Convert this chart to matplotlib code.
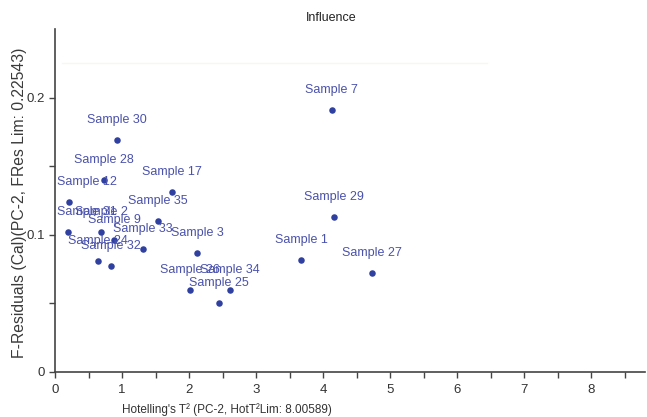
import matplotlib
matplotlib.use("Agg")
import matplotlib.pyplot as plt
import matplotlib.transforms as mtransforms

plt.rcParams['font.family'] = ['Liberation Sans', 'DejaVu Sans']

# samples: Hotelling's T2 vs F-residuals
names = ['Sample 7', 'Sample 30', 'Sample 28', 'Sample 12', 'Sample 17', 'Sample 35',
         'Sample 33', 'Sample 31', 'Sample 2', 'Sample 9', 'Sample 24', 'Sample 32',
         'Sample 3', 'Sample 26', 'Sample 34', 'Sample 25', 'Sample 1', 'Sample 29',
         'Sample 27']
hot_t2 = [4.13, 0.93, 0.73, 0.21, 1.75, 1.54,
          1.31, 0.19, 0.69, 0.88, 0.64, 0.84,
          2.12, 2.01, 2.61, 2.45, 3.67, 4.16,
          4.73]
f_res = [0.191, 0.169, 0.140, 0.124, 0.131, 0.110,
         0.090, 0.102, 0.102, 0.096, 0.081, 0.077,
         0.087, 0.060, 0.060, 0.050, 0.082, 0.113,
         0.072]
# labels pushed against the left axis
left_clamped = ['Sample 12', 'Sample 31']

fres_lim = 0.22543

fig = plt.figure(figsize=(6.47, 4.17), dpi=100)
ax = fig.add_axes([0.085, 0.108, 0.912, 0.822])

dot_col = '#3040a0'
txt_col = '#4a52ac'

ax.plot([0.1, 6.45], [fres_lim, fres_lim], color='#f7f6f2', lw=1.0, zorder=1)
ax.scatter(hot_t2, f_res, s=22, color=dot_col, zorder=3, linewidths=0)

blend = mtransforms.blended_transform_factory(ax.transAxes, ax.transData)
for n, x, y in zip(names, hot_t2, f_res):
    if n in left_clamped:
        ax.annotate(n, xy=(0.004, y), xycoords=blend, xytext=(0, 14.4),
                    textcoords='offset points', ha='left', va='center',
                    fontsize=9, color=txt_col, zorder=4)
    else:
        ax.annotate(n, xy=(x, y), xytext=(0, 14.4), textcoords='offset points',
                    ha='center', va='center', fontsize=9, color=txt_col, zorder=4)

ax.set_xlim(0, 8.8)
ax.set_ylim(0, 0.25)
ax.set_xticks(range(0, 9))
ax.set_xticks([i + 0.5 for i in range(0, 9)], minor=True)
ax.set_yticks([0, 0.1, 0.2])
ax.set_yticklabels(['0', '0.1', '0.2'])
ax.set_yticks([0.05, 0.15], minor=True)

for s in ['top', 'right']:
    ax.spines[s].set_visible(False)
for s in ['left', 'bottom']:
    ax.spines[s].set_color('#444444')
    ax.spines[s].set_linewidth(1.2)
ax.tick_params(which='both', direction='out', color='#444444', labelcolor='#333333',
               labelsize=9.5, length=4, width=1)
ax.tick_params(axis='x', pad=5)

fig.text(0.351, 0.018, "Hotelling's T² (PC-2, HotT²Lim: 8.00589)", ha='center',
         va='center', fontsize=8.5, color='#333333')
fig.text(0.030, 0.513, 'F-Residuals (Cal)(PC-2, FRes Lim: 0.22543)', rotation=90,
         ha='center', va='center', fontsize=11.3, color='#3a3a3a')
fig.text(0.512, 0.957, 'Influence', ha='center', va='center', fontsize=9,
         color='#222222')

fig.savefig('out.png', dpi=100)
